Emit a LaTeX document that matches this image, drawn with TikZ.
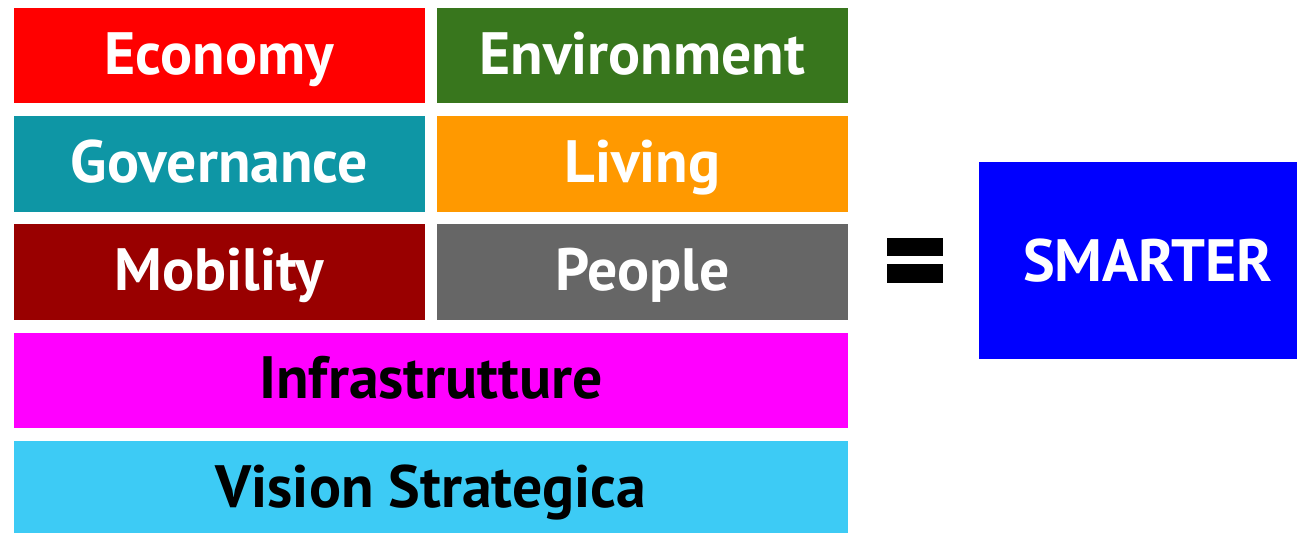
\documentclass[tikz,border=0pt]{standalone}
\usepackage{fontspec}
\setmainfont{PT Sans}
\usetikzlibrary{positioning}

\definecolor{econred}{HTML}{FF0000}
\definecolor{envgreen}{HTML}{38761D}
\definecolor{govteal}{HTML}{0E96A5}
\definecolor{livorange}{HTML}{FF9900}
\definecolor{mobred}{HTML}{990000}
\definecolor{pplgray}{HTML}{666666}
\definecolor{infmagenta}{HTML}{FF00FF}
\definecolor{visblue}{HTML}{3DCBF5}
\definecolor{smartblue}{HTML}{0000FF}

\begin{document}
\begin{tikzpicture}[x=0.02cm, y=-0.02cm, node distance=0.255cm and 0.24cm,
    every node/.style={inner sep=0pt, outer sep=0pt, font=\fontsize{34}{34}\selectfont\bfseries},
    tile/.style={minimum width=8.22cm, minimum height=1.91cm, text height=0.86cm, text depth=0.12cm, text=white},
    band/.style={minimum width=16.68cm, minimum height=1.91cm, text height=0.86cm, text depth=0.12cm, text=black},
    bar/.style={fill=black, minimum width=1.12cm, minimum height=0.37cm}]
    \useasboundingbox (0,0) rectangle (1297,533);
    % Left column
    \node (economy) [tile, fill=econred, anchor=north west] at (14,8) {Economy};
    \node (governance) [tile, fill=govteal, below=of economy] {Governance};
    \node (mobility) [tile, fill=mobred, below=of governance] {Mobility};
    % Right column
    \node (environment) [tile, fill=envgreen, right=of economy] {Environment};
    \node (living) [tile, fill=livorange, below=of environment] {Living};
    \node (people) [tile, fill=pplgray, below=of living] {People};
    % Full-width bands
    \node (infra) [band, fill=infmagenta, below=0.255cm of mobility.south west, anchor=north west] {Infrastrutture};
    \node (vision) [band, fill=visblue, below=of infra] {Vision Strategica};
    % Equals sign
    \node (eqtop) [bar] at (915,247) {};
    \node (eqbot) [bar] at (915,273.5) {};
    % Result
    \node (smarter) [fill=smartblue, text=white, minimum width=6.76cm, minimum height=3.94cm, text height=0.84cm, text depth=0pt] at (1148,260.5) {SMARTER};
\end{tikzpicture}
\end{document}
